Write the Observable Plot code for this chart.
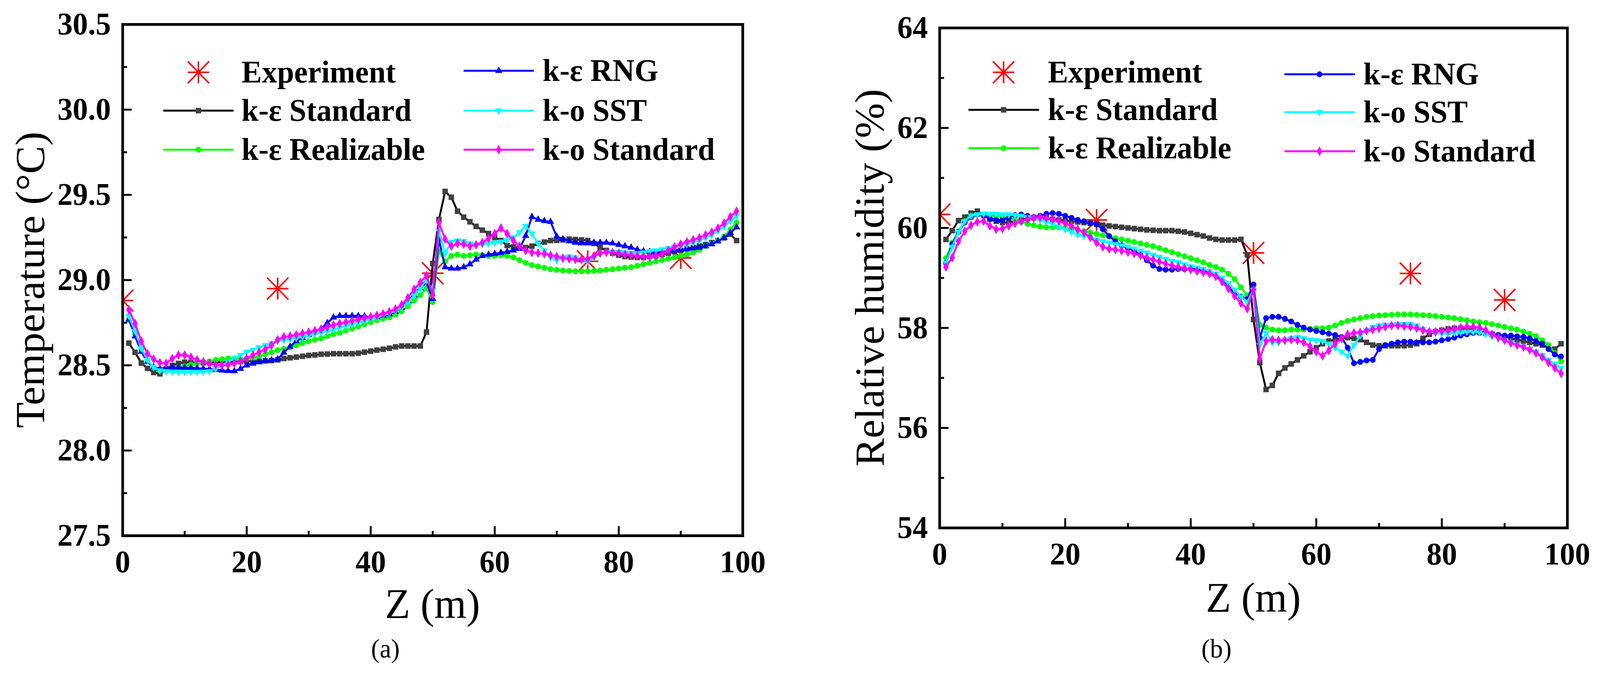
<!DOCTYPE html>
<html><head><meta charset="utf-8">
<script src="https://cdn.jsdelivr.net/npm/d3@7"></script>
<script src="https://cdn.jsdelivr.net/npm/@observablehq/plot@0.6"></script>
<style>
html,body{margin:0;padding:0;background:#fff;overflow:hidden;}
#root{position:relative;width:4193px;height:1737px;background:#fff;overflow:hidden;transform-origin:0 0;}
#root svg{position:absolute;top:0;}
</style></head><body><div id="root"></div>
<script>
// ---------- data ----------
const z = [1,2,3,4,5,6,7,8,9,10,11,12,13,14,15,16,17,18,19,20,21,22,23,24,25,26,27,28,29,30,31,32,33,34,35,36,37,38,39,40,41,42,43,44,45,46,47,48,49,50,51,52,53,54,55,56,57,58,59,60,61,62,63,64,65,66,67,68,69,70,71,72,73,74,75,76,77,78,79,80,81,82,83,84,85,86,87,88,89,90,91,92,93,94,95,96,97,98,99];
const expZ = [0, 25, 50, 75, 90];
const expT = [28.88, 28.95, 29.04, 29.11, 29.13];
const expRH = [60.27, 60.16, 59.50, 59.09, 58.56];

const seriesNames = ["k-ε Standard", "k-ε Realizable", "k-ε RNG", "k-o SST", "k-o Standard"];

// (a) temperature
const tStd = [28.63,28.576,28.513,28.482,28.458,28.45,28.478,28.499,28.511,28.518,28.518,28.515,28.515,28.516,28.518,28.519,28.52,28.521,28.522,28.523,28.524,28.525,28.526,28.528,28.532,28.54,28.544,28.548,28.553,28.558,28.561,28.565,28.566,28.568,28.568,28.568,28.568,28.571,28.577,28.583,28.589,28.594,28.6,28.608,28.613,28.613,28.613,28.613,28.695,29.097,29.355,29.52,29.486,29.404,29.369,29.342,29.315,29.293,29.273,29.25,29.232,29.203,29.195,29.187,29.191,29.199,29.215,29.223,29.232,29.233,29.236,29.24,29.238,29.236,29.232,29.215,29.191,29.174,29.158,29.146,29.138,29.135,29.133,29.133,29.138,29.142,29.15,29.158,29.166,29.174,29.183,29.191,29.2,29.208,29.22,29.232,29.248,29.269,29.232];
const tReal = [28.765,28.683,28.593,28.528,28.487,28.47,28.47,28.478,28.487,28.495,28.503,28.511,28.52,28.523,28.532,28.536,28.54,28.54,28.538,28.54,28.544,28.552,28.565,28.577,28.589,28.597,28.605,28.617,28.63,28.642,28.65,28.658,28.671,28.683,28.691,28.704,28.716,28.728,28.74,28.753,28.765,28.773,28.781,28.798,28.818,28.847,28.88,28.912,28.953,28.871,29.17,29.109,29.142,29.15,29.142,29.146,29.15,29.146,29.142,29.142,29.146,29.142,29.133,29.117,29.101,29.088,29.08,29.072,29.064,29.06,29.056,29.054,29.052,29.052,29.052,29.054,29.056,29.06,29.064,29.068,29.072,29.076,29.084,29.093,29.101,29.109,29.117,29.125,29.133,29.142,29.15,29.162,29.178,29.199,29.215,29.232,29.256,29.297,29.338];
const tRng = [28.77,28.67,28.58,28.52,28.49,28.48,28.485,28.487,28.487,28.486,28.485,28.483,28.48,28.478,28.474,28.47,28.467,28.466,28.48,28.5,28.51,28.518,28.525,28.53,28.536,28.575,28.61,28.642,28.66,28.679,28.698,28.716,28.748,28.781,28.79,28.79,28.79,28.79,28.788,28.782,28.785,28.792,28.8,28.814,28.838,28.88,28.912,28.953,28.986,28.89,29.24,29.076,29.068,29.068,29.076,29.093,29.121,29.142,29.15,29.154,29.16,29.166,29.174,29.184,29.26,29.371,29.355,29.347,29.342,29.256,29.24,29.228,29.22,29.216,29.216,29.22,29.22,29.22,29.216,29.207,29.199,29.191,29.178,29.17,29.166,29.162,29.166,29.17,29.174,29.178,29.183,29.187,29.191,29.199,29.211,29.228,29.248,29.277,29.31];
const tSst = [28.79,28.7,28.6,28.53,28.49,28.47,28.465,28.462,28.46,28.46,28.46,28.461,28.462,28.465,28.48,28.5,28.52,28.54,28.56,28.578,28.59,28.605,28.617,28.63,28.642,28.648,28.654,28.66,28.667,28.675,28.683,28.692,28.7,28.71,28.72,28.73,28.74,28.75,28.761,28.772,28.781,28.794,28.806,28.818,28.84,28.87,28.91,28.95,29.0,28.94,29.289,29.158,29.224,29.232,29.228,29.215,29.207,29.21,29.215,29.22,29.225,29.235,29.25,29.28,29.318,29.273,29.215,29.174,29.133,29.117,29.133,29.138,29.133,29.121,29.109,29.133,29.154,29.162,29.166,29.166,29.162,29.158,29.158,29.162,29.17,29.174,29.18,29.187,29.195,29.203,29.211,29.22,29.232,29.248,29.265,29.289,29.314,29.346,29.375];
const tKw = [28.826,28.745,28.642,28.568,28.536,28.515,28.511,28.54,28.56,28.56,28.548,28.532,28.52,28.511,28.503,28.499,28.503,28.511,28.523,28.54,28.56,28.577,28.593,28.617,28.65,28.667,28.671,28.679,28.687,28.695,28.703,28.712,28.724,28.736,28.745,28.753,28.761,28.769,28.777,28.785,28.793,28.802,28.814,28.83,28.855,28.896,28.945,28.986,29.027,28.912,29.338,29.24,29.199,29.215,29.211,29.199,29.207,29.22,29.244,29.273,29.305,29.273,29.232,29.199,29.174,29.162,29.158,29.154,29.146,29.138,29.129,29.125,29.121,29.121,29.125,29.142,29.158,29.162,29.162,29.158,29.15,29.146,29.142,29.138,29.138,29.142,29.154,29.174,29.195,29.211,29.224,29.236,29.248,29.265,29.281,29.305,29.334,29.371,29.404];

// (b) relative humidity
const hStd = [59.77,59.946,60.148,60.215,60.296,60.336,60.269,60.175,60.134,60.108,60.108,60.134,60.161,60.188,60.202,60.202,60.188,60.175,60.161,60.148,60.134,60.121,60.108,60.094,60.081,60.054,60.04,60.027,60.013,60.0,59.986,59.973,59.96,59.953,59.946,59.946,59.946,59.933,59.919,59.892,59.865,59.838,59.798,59.771,59.757,59.757,59.757,59.771,59.461,58.169,57.307,56.769,56.85,57.092,57.2,57.28,57.361,57.442,57.523,57.603,57.684,57.738,57.765,57.792,57.806,57.792,57.765,57.711,57.657,57.644,57.644,57.644,57.644,57.644,57.657,57.684,57.792,57.873,57.926,57.953,57.98,57.994,57.994,57.98,57.953,57.926,57.9,57.873,57.846,57.819,57.792,57.765,57.738,57.711,57.684,57.657,57.603,57.576,57.684];
const hReal = [59.394,59.704,59.933,60.134,60.242,60.269,60.269,60.256,60.242,60.229,60.202,60.161,60.121,60.081,60.054,60.027,60.013,60.013,60.013,60.0,59.986,59.96,59.933,59.906,59.879,59.852,59.825,59.798,59.771,59.744,59.717,59.69,59.663,59.636,59.596,59.556,59.515,59.475,59.434,59.394,59.354,59.313,59.259,59.219,59.165,59.084,58.977,58.815,58.654,58.788,58.061,58.007,57.967,57.953,57.953,57.967,57.967,57.967,57.98,57.994,57.994,58.007,58.048,58.101,58.142,58.169,58.196,58.223,58.236,58.25,58.256,58.263,58.27,58.27,58.271,58.263,58.256,58.25,58.236,58.223,58.21,58.196,58.175,58.155,58.129,58.115,58.101,58.075,58.048,58.021,57.994,57.967,57.927,57.886,57.832,57.752,57.657,57.496,57.33];
const hRng = [59.3,59.677,59.919,60.108,60.215,60.269,60.242,60.188,60.161,60.161,60.202,60.256,60.269,60.242,60.215,60.242,60.282,60.296,60.282,60.242,60.202,60.161,60.134,60.094,60.067,59.973,59.838,59.731,59.65,59.596,59.542,59.461,59.354,59.246,59.179,59.165,59.165,59.179,59.179,59.179,59.165,59.138,59.098,59.044,58.95,58.815,58.707,58.627,58.573,58.869,57.8,58.196,58.223,58.223,58.182,58.129,58.061,58.007,57.967,57.94,57.913,57.886,57.859,57.819,57.604,57.294,57.321,57.348,57.361,57.577,57.657,57.684,57.711,57.725,57.725,57.711,57.711,57.711,57.725,57.752,57.778,57.806,57.846,57.873,57.9,57.9,57.886,57.873,57.859,57.846,57.846,57.832,57.819,57.792,57.738,57.684,57.577,57.469,57.429];
const hSst = [59.3,59.623,59.919,60.134,60.242,60.269,60.282,60.282,60.282,60.269,60.269,60.256,60.242,60.215,60.188,60.161,60.121,60.081,60.027,59.973,59.919,59.865,59.838,59.811,59.771,59.731,59.704,59.677,59.65,59.623,59.582,59.542,59.502,59.461,59.421,59.38,59.34,59.313,59.273,59.232,59.206,59.179,59.138,59.084,59.004,58.896,58.761,58.627,58.519,58.761,57.657,57.9,57.711,57.711,57.765,57.792,57.819,57.792,57.765,57.752,57.738,57.684,57.604,57.523,57.442,57.657,57.846,57.953,58.021,58.048,58.061,58.061,58.075,58.075,58.075,58.048,57.98,57.926,57.9,57.886,57.886,57.9,57.913,57.926,57.926,57.913,57.873,57.832,57.792,57.752,57.711,57.671,57.63,57.577,57.523,57.455,57.361,57.28,57.2];
const hKw = [59.219,59.407,59.731,59.933,60.054,60.121,60.134,60.04,59.973,59.986,60.04,60.094,60.134,60.175,60.202,60.215,60.202,60.175,60.134,60.094,60.04,59.973,59.906,59.811,59.704,59.623,59.582,59.569,59.542,59.515,59.488,59.448,59.407,59.367,59.327,59.286,59.246,59.219,59.192,59.165,59.138,59.111,59.084,59.031,58.923,58.788,58.64,58.492,58.384,58.761,57.388,57.738,57.765,57.752,57.752,57.765,57.752,57.711,57.63,57.523,57.442,57.55,57.684,57.792,57.873,57.9,57.913,57.94,57.967,57.994,58.021,58.048,58.048,58.034,58.021,57.994,57.953,57.926,57.926,57.94,57.953,57.98,58.007,58.021,58.021,58.007,57.953,57.873,57.806,57.752,57.698,57.657,57.617,57.563,57.496,57.415,57.307,57.2,57.092];

const xMajor = [0, 20, 40, 60, 80, 100];
const xMinor = [10, 30, 50, 70, 90];
const yMajorA = [27.5, 28.0, 28.5, 29.0, 29.5, 30.0, 30.5];
const yMinorA = [27.75, 28.25, 28.75, 29.25, 29.75, 30.25];
const yMajorB = [54, 56, 58, 60, 62, 64];
const yMinorB = [55, 57, 59, 61, 63];

// ---------- symbols ----------
const asterisk8 = {draw(ctx, size) {
  const h = Math.sqrt(size / Math.PI);
  ctx.moveTo(0, -h); ctx.lineTo(0, h);
  ctx.moveTo(-h, 0); ctx.lineTo(h, 0);
  ctx.moveTo(-h, -h); ctx.lineTo(h, h);
  ctx.moveTo(-h, h); ctx.lineTo(h, -h);
}};
const triDown = {draw(ctx, size) {
  const s3 = Math.sqrt(3);
  const y = -Math.sqrt(size / (s3 * 3));
  ctx.moveTo(0, -y * 2); ctx.lineTo(-s3 * y, y); ctx.lineTo(s3 * y, y); ctx.closePath();
}};

const FONT = "'Liberation Serif','Times New Roman',serif";
const root = document.getElementById("root");

function fit() {
  const sx = window.innerWidth / 4193, sy = window.innerHeight / 1737;
  root.style.transform = (Math.abs(sx - 1) > 1e-3 || Math.abs(sy - 1) > 1e-3) ? `scale(${sx}, ${sy})` : "";
}

function rows(xs, vs) { return xs.map((x, i) => ({z: x, v: vs[i]})); }

function makePanel(cfg) {
  const fw = cfg.width - cfg.mL - cfg.mR;
  const fh = 1737 - cfg.mT - cfg.mB;
  const marks = [];
  marks.push(Plot.dot(rows(expZ, cfg.exp), {x: "z", y: "v", symbol: asterisk8, r: 28, stroke: "#ff0000", strokeWidth: 4, fill: "none", clip: true}));
  cfg.series.forEach(s => {
    const d = rows(z, s.vals);
    marks.push(Plot.line(d, {x: "z", y: "v", stroke: s.color, strokeWidth: 5}));
    marks.push(Plot.dot(d, {x: "z", y: "v", symbol: s.symbol, r: s.r, fill: s.mark, stroke: "none"}));
  });
  marks.push(Plot.frame({stroke: "black", strokeWidth: 7}));
  marks.push(Plot.tickX(xMajor, {x: d => d, insetTop: fh - 24, stroke: "black", strokeWidth: 5}));
  marks.push(Plot.tickX(xMinor, {x: d => d, insetTop: fh - 12, stroke: "black", strokeWidth: 5}));
  marks.push(Plot.tickY(cfg.yMajor, {y: d => d, insetRight: fw - 24, stroke: "black", strokeWidth: 5}));
  marks.push(Plot.tickY(cfg.yMinor, {y: d => d, insetRight: fw - 12, stroke: "black", strokeWidth: 5}));
  marks.push(Plot.axisX(xMajor, {tickSize: 0, tickPadding: 37, fontSize: 80, fontWeight: "bold", fill: "black", label: null}));
  marks.push(Plot.axisY(cfg.yMajor, {tickSize: 0, tickPadding: 31, fontSize: 80, fontWeight: "bold", fill: "black", tickFormat: cfg.yFmt, label: null}));

  const svg = Plot.plot({
    width: cfg.width, height: 1737,
    marginLeft: cfg.mL, marginRight: cfg.mR, marginTop: cfg.mT, marginBottom: cfg.mB,
    x: {domain: [0, 100], label: null},
    y: {domain: cfg.yDomain, label: null},
    style: {fontFamily: FONT, background: "transparent", color: "black", overflow: "visible", maxWidth: "none"},
    marks
  });
  svg.style.left = cfg.left + "px";
  root.appendChild(svg);

  const g = d3.select(svg).append("g").attr("font-family", FONT).attr("fill", "black");
  // axis titles
  g.append("text").attr("transform", `translate(${cfg.yTitleX},${cfg.mT + fh / 2}) rotate(-90)`)
    .attr("text-anchor", "middle").attr("font-size", 108).text(cfg.yTitle);
  g.append("text").attr("x", cfg.mL + fw / 2).attr("y", cfg.xTitleY)
    .attr("text-anchor", "middle").attr("font-size", 108).text("Z (m)");
  g.append("text").attr("x", cfg.capX).attr("y", 1682)
    .attr("text-anchor", "middle").attr("font-size", 68).text(cfg.caption);

  // legend
  const L = cfg.legend;
  const lg = g.append("g").attr("font-weight", "bold").attr("font-size", 80).attr("text-anchor", "start");
  lg.append("path").attr("transform", `translate(${L.c1.sym},${L.y1[0]})`)
    .attr("d", d3.symbol(asterisk8, Math.PI * 28 * 28)()).attr("stroke", "#ff0000").attr("stroke-width", 4).attr("fill", "none");
  lg.append("text").attr("x", L.c1.text).attr("y", L.y1[0] + 26).attr("text-anchor", "start").text("Experiment");
  const slots = [
    {col: L.c1, y: L.y1[1]}, {col: L.c1, y: L.y1[2]},
    {col: L.c2, y: L.y2[0]}, {col: L.c2, y: L.y2[1]}, {col: L.c2, y: L.y2[2]}
  ];
  cfg.series.forEach((s, i) => {
    const sl = slots[i];
    lg.append("line").attr("x1", sl.col.l0).attr("x2", sl.col.l1).attr("y1", sl.y).attr("y2", sl.y)
      .attr("stroke", s.color).attr("stroke-width", 5);
    lg.append("path").attr("transform", `translate(${sl.col.sym},${sl.y})`)
      .attr("d", d3.symbol(s.symbol, Math.PI * s.r * s.r)()).attr("fill", s.mark);
    lg.append("text").attr("x", sl.col.text).attr("y", sl.y + 26).attr("text-anchor", "start").text(seriesNames[i]);
  });
}

const GREEN = "#00ff00", BLUE = "#0000ff", CYAN = "#00ffff", MAG = "#ff00ff";

makePanel({
  left: 0, width: 2090, mL: 321, mR: 144, mT: 62, mB: 367,
  yDomain: [27.5, 30.5], yMajor: yMajorA, yMinor: yMinorA, yFmt: d3.format(".1f"),
  exp: expT,
  series: [
    {vals: tStd, color: "#000000", mark: "#404040", symbol: d3.symbolSquare, r: 8},
    {vals: tReal, color: GREEN, mark: GREEN, symbol: d3.symbolCircle, r: 7.5},
    {vals: tRng, color: BLUE, mark: BLUE, symbol: d3.symbolTriangle, r: 7},
    {vals: tSst, color: CYAN, mark: CYAN, symbol: triDown, r: 7},
    {vals: tKw, color: MAG, mark: MAG, symbol: d3.symbolDiamond, r: 7.5}
  ],
  yTitle: "Temperature (°C)", yTitleX: 116, xTitleY: 1581, capX: 1010, caption: "(a)",
  legend: {
    c1: {l0: 428, l1: 612, sym: 520, text: 633},
    c2: {l0: 1215, l1: 1399, sym: 1307, text: 1422},
    y1: [185, 283, 383], y2: [181, 283, 383]
  }
});

makePanel({
  left: 2090, width: 2103, mL: 372, mR: 86, mT: 71, mB: 387,
  yDomain: [54, 64], yMajor: yMajorB, yMinor: yMinorB, yFmt: d => d,
  exp: expRH,
  series: [
    {vals: hStd, color: "#000000", mark: "#404040", symbol: d3.symbolSquare, r: 8},
    {vals: hReal, color: GREEN, mark: GREEN, symbol: d3.symbolCircle, r: 7.5},
    {vals: hRng, color: BLUE, mark: BLUE, symbol: d3.symbolCircle, r: 7.5},
    {vals: hSst, color: CYAN, mark: CYAN, symbol: triDown, r: 7},
    {vals: hKw, color: MAG, mark: MAG, symbol: d3.symbolDiamond, r: 7.5}
  ],
  yTitle: "Relative humidity (%)", yTitleX: 226, xTitleY: 1565, capX: 1098, caption: "(b)",
  legend: {
    c1: {l0: 448, l1: 633, sym: 540, text: 656},
    c2: {l0: 1276, l1: 1461, sym: 1368, text: 1483},
    y1: [185, 281, 379], y2: [190, 287, 387]
  }
});

fit();
window.addEventListener("resize", fit);
</script>
</body></html>
